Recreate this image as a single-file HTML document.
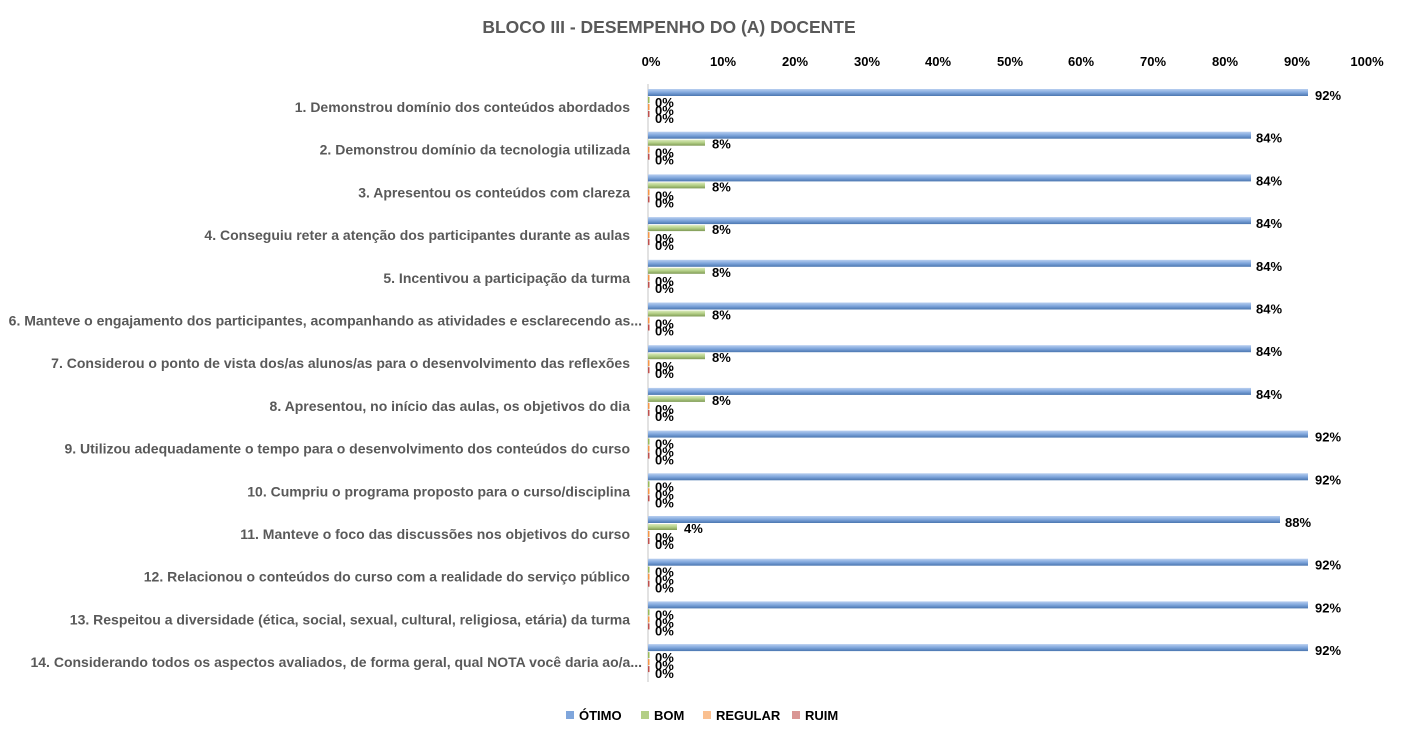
<!DOCTYPE html><html><head><meta charset="utf-8"><style>body{margin:0;background:#fff}svg{display:block;font-family:"Liberation Sans",sans-serif}.c{font-size:14px}</style></head><body>
<svg width="1405" height="737" viewBox="0 0 1405 737">
<defs><linearGradient id="b" x1="0" y1="0" x2="0" y2="1"><stop offset="0" stop-color="#b9cff0"/><stop offset=".5" stop-color="#7fa6dc"/><stop offset="1" stop-color="#4a76b0"/></linearGradient>
<linearGradient id="g" x1="0" y1="0" x2="0" y2="1"><stop offset="0" stop-color="#dcebbd"/><stop offset=".5" stop-color="#b3cf86"/><stop offset="1" stop-color="#7f9a55"/></linearGradient></defs>
<text x="669" y="33" text-anchor="middle" font-size="17.5" font-weight="bold" fill="#595959">BLOCO III - DESEMPENHO DO (A) DOCENTE</text>
<g font-size="13" font-weight="bold" fill="#000" text-anchor="middle">
<text x="651" y="66">0%</text><text x="723" y="66">10%</text><text x="795" y="66">20%</text><text x="867" y="66">30%</text><text x="938" y="66">40%</text><text x="1010" y="66">50%</text><text x="1081" y="66">60%</text><text x="1153" y="66">70%</text><text x="1225" y="66">80%</text><text x="1297" y="66">90%</text><text x="1367" y="66">100%</text></g>
<line x1="648" y1="84" x2="648" y2="682" stroke="#d9d9d9" stroke-width="1.5"/>
<g font-size="13" font-weight="bold">
<g transform="translate(0,89)"><rect x="648" y="0" width="660" height="7" fill="url(#b)"/><rect x="648" y="8" width="1.5" height="6" fill="#9bbb59"/><rect x="648" y="15" width="1.5" height="6" fill="#f79646"/><rect x="648" y="22" width="1.5" height="6" fill="#c0504d"/><text x="1315" y="11">92%</text><text x="655" y="18">0%</text><text x="655" y="26">0%</text><text x="655" y="34">0%</text><text class="c" x="630" y="23" text-anchor="end" fill="#595959">1. Demonstrou domínio dos conteúdos abordados</text></g>
<g transform="translate(0,131.7)"><rect x="648" y="0" width="603" height="7" fill="url(#b)"/><rect x="648" y="8" width="57" height="6" fill="url(#g)"/><rect x="648" y="15" width="1.5" height="6" fill="#f79646"/><rect x="648" y="22" width="1.5" height="6" fill="#c0504d"/><text x="1256" y="11">84%</text><text x="712" y="17">8%</text><text x="655" y="26">0%</text><text x="655" y="33">0%</text><text class="c" x="630" y="23" text-anchor="end" fill="#595959">2. Demonstrou domínio da tecnologia utilizada</text></g>
<g transform="translate(0,174.4)"><rect x="648" y="0" width="603" height="7" fill="url(#b)"/><rect x="648" y="8" width="57" height="6" fill="url(#g)"/><rect x="648" y="15" width="1.5" height="6" fill="#f79646"/><rect x="648" y="22" width="1.5" height="6" fill="#c0504d"/><text x="1256" y="11">84%</text><text x="712" y="17">8%</text><text x="655" y="26">0%</text><text x="655" y="33">0%</text><text class="c" x="630" y="23" text-anchor="end" fill="#595959">3. Apresentou os conteúdos com clareza</text></g>
<g transform="translate(0,217.1)"><rect x="648" y="0" width="603" height="7" fill="url(#b)"/><rect x="648" y="8" width="57" height="6" fill="url(#g)"/><rect x="648" y="15" width="1.5" height="6" fill="#f79646"/><rect x="648" y="22" width="1.5" height="6" fill="#c0504d"/><text x="1256" y="11">84%</text><text x="712" y="17">8%</text><text x="655" y="26">0%</text><text x="655" y="33">0%</text><text class="c" x="630" y="23" text-anchor="end" fill="#595959">4. Conseguiu reter a atenção dos participantes durante as aulas</text></g>
<g transform="translate(0,259.8)"><rect x="648" y="0" width="603" height="7" fill="url(#b)"/><rect x="648" y="8" width="57" height="6" fill="url(#g)"/><rect x="648" y="15" width="1.5" height="6" fill="#f79646"/><rect x="648" y="22" width="1.5" height="6" fill="#c0504d"/><text x="1256" y="11">84%</text><text x="712" y="17">8%</text><text x="655" y="26">0%</text><text x="655" y="33">0%</text><text class="c" x="630" y="23" text-anchor="end" fill="#595959">5. Incentivou a participação da turma</text></g>
<g transform="translate(0,302.5)"><rect x="648" y="0" width="603" height="7" fill="url(#b)"/><rect x="648" y="8" width="57" height="6" fill="url(#g)"/><rect x="648" y="15" width="1.5" height="6" fill="#f79646"/><rect x="648" y="22" width="1.5" height="6" fill="#c0504d"/><text x="1256" y="11">84%</text><text x="712" y="17">8%</text><text x="655" y="26">0%</text><text x="655" y="33">0%</text><text class="c" x="642" y="23" text-anchor="end" fill="#595959">6. Manteve o engajamento dos participantes, acompanhando as atividades e esclarecendo as...</text></g>
<g transform="translate(0,345.2)"><rect x="648" y="0" width="603" height="7" fill="url(#b)"/><rect x="648" y="8" width="57" height="6" fill="url(#g)"/><rect x="648" y="15" width="1.5" height="6" fill="#f79646"/><rect x="648" y="22" width="1.5" height="6" fill="#c0504d"/><text x="1256" y="11">84%</text><text x="712" y="17">8%</text><text x="655" y="26">0%</text><text x="655" y="33">0%</text><text class="c" x="630" y="23" text-anchor="end" fill="#595959">7. Considerou o ponto de vista dos/as alunos/as para o desenvolvimento das reflexões</text></g>
<g transform="translate(0,387.9)"><rect x="648" y="0" width="603" height="7" fill="url(#b)"/><rect x="648" y="8" width="57" height="6" fill="url(#g)"/><rect x="648" y="15" width="1.5" height="6" fill="#f79646"/><rect x="648" y="22" width="1.5" height="6" fill="#c0504d"/><text x="1256" y="11">84%</text><text x="712" y="17">8%</text><text x="655" y="26">0%</text><text x="655" y="33">0%</text><text class="c" x="630" y="23" text-anchor="end" fill="#595959">8. Apresentou, no início das aulas, os objetivos do dia</text></g>
<g transform="translate(0,430.6)"><rect x="648" y="0" width="660" height="7" fill="url(#b)"/><rect x="648" y="8" width="1.5" height="6" fill="#9bbb59"/><rect x="648" y="15" width="1.5" height="6" fill="#f79646"/><rect x="648" y="22" width="1.5" height="6" fill="#c0504d"/><text x="1315" y="11">92%</text><text x="655" y="18">0%</text><text x="655" y="26">0%</text><text x="655" y="34">0%</text><text class="c" x="630" y="23" text-anchor="end" fill="#595959">9. Utilizou adequadamente o tempo para o desenvolvimento dos conteúdos do curso</text></g>
<g transform="translate(0,473.3)"><rect x="648" y="0" width="660" height="7" fill="url(#b)"/><rect x="648" y="8" width="1.5" height="6" fill="#9bbb59"/><rect x="648" y="15" width="1.5" height="6" fill="#f79646"/><rect x="648" y="22" width="1.5" height="6" fill="#c0504d"/><text x="1315" y="11">92%</text><text x="655" y="18">0%</text><text x="655" y="26">0%</text><text x="655" y="34">0%</text><text class="c" x="630" y="23" text-anchor="end" fill="#595959">10. Cumpriu o programa proposto para o curso/disciplina</text></g>
<g transform="translate(0,516)"><rect x="648" y="0" width="632" height="7" fill="url(#b)"/><rect x="648" y="8" width="29" height="6" fill="url(#g)"/><rect x="648" y="15" width="1.5" height="6" fill="#f79646"/><rect x="648" y="22" width="1.5" height="6" fill="#c0504d"/><text x="1285" y="11">88%</text><text x="684" y="17">4%</text><text x="655" y="26">0%</text><text x="655" y="33">0%</text><text class="c" x="630" y="23" text-anchor="end" fill="#595959">11. Manteve o foco das discussões nos objetivos do curso</text></g>
<g transform="translate(0,558.7)"><rect x="648" y="0" width="660" height="7" fill="url(#b)"/><rect x="648" y="8" width="1.5" height="6" fill="#9bbb59"/><rect x="648" y="15" width="1.5" height="6" fill="#f79646"/><rect x="648" y="22" width="1.5" height="6" fill="#c0504d"/><text x="1315" y="11">92%</text><text x="655" y="18">0%</text><text x="655" y="26">0%</text><text x="655" y="34">0%</text><text class="c" x="630" y="23" text-anchor="end" fill="#595959">12. Relacionou o conteúdos do curso com a realidade do serviço público</text></g>
<g transform="translate(0,601.4)"><rect x="648" y="0" width="660" height="7" fill="url(#b)"/><rect x="648" y="8" width="1.5" height="6" fill="#9bbb59"/><rect x="648" y="15" width="1.5" height="6" fill="#f79646"/><rect x="648" y="22" width="1.5" height="6" fill="#c0504d"/><text x="1315" y="11">92%</text><text x="655" y="18">0%</text><text x="655" y="26">0%</text><text x="655" y="34">0%</text><text class="c" x="630" y="23" text-anchor="end" fill="#595959">13. Respeitou a diversidade (ética, social, sexual, cultural, religiosa, etária) da turma</text></g>
<g transform="translate(0,644.1)"><rect x="648" y="0" width="660" height="7" fill="url(#b)"/><rect x="648" y="8" width="1.5" height="6" fill="#9bbb59"/><rect x="648" y="15" width="1.5" height="6" fill="#f79646"/><rect x="648" y="22" width="1.5" height="6" fill="#c0504d"/><text x="1315" y="11">92%</text><text x="655" y="18">0%</text><text x="655" y="26">0%</text><text x="655" y="34">0%</text><text class="c" x="642" y="23" text-anchor="end" fill="#595959">14. Considerando todos os aspectos avaliados, de forma geral, qual NOTA você daria ao/a...</text></g>
</g>
<g font-size="13" font-weight="bold" fill="#000">
<rect x="566" y="711" width="8" height="8" fill="#7fa6dc"/><text x="579" y="720">ÓTIMO</text>
<rect x="641" y="711" width="8" height="8" fill="#b3cf86"/><text x="654" y="720">BOM</text>
<rect x="703" y="711" width="8" height="8" fill="#fac090"/><text x="716" y="720">REGULAR</text>
<rect x="792" y="711" width="8" height="8" fill="#d99694"/><text x="805" y="720">RUIM</text>
</g>
</svg></body></html>
